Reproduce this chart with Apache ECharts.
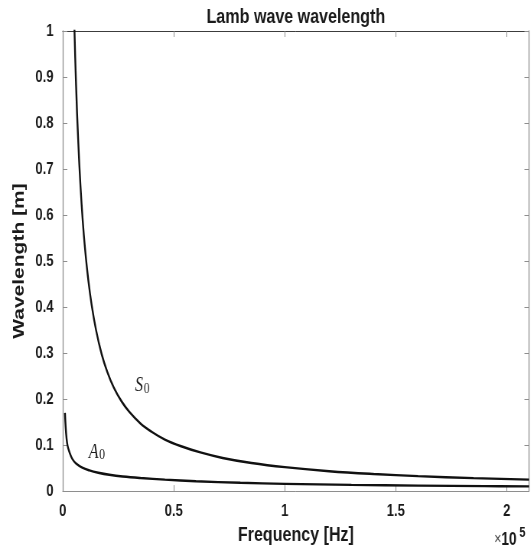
<!DOCTYPE html>
<html>
<head>
<meta charset="utf-8">
<script src="https://cdn.jsdelivr.net/npm/echarts@6/dist/echarts.min.js"></script>
<style>
  html, body { margin: 0; padding: 0; background: #fff; overflow: hidden; }
  /* the figure is laid out wide and then narrowed horizontally */
  #main { width: 694px; height: 551px; transform: scaleX(0.765); transform-origin: 0 0; }
</style>
</head>
<body>
<div id="main"></div>
<script>
// S0 mode: frequency [Hz] and wavelength [m]
const s0Freq = [5000, 5300, 6000, 7000, 8000, 9000, 10000, 11500, 13000, 15000, 17500, 20000,
                23000, 26500, 30000, 35000, 40000, 46000, 53000, 62000, 72000, 85000,
                100000, 120000, 140000, 160000, 185000, 210000];
const s0Wave = [1.06, 1.00, 0.883, 0.757, 0.662, 0.588, 0.529, 0.459, 0.405, 0.350, 0.298, 0.260,
                0.225, 0.195, 0.172, 0.147, 0.129, 0.112, 0.098, 0.084, 0.072, 0.061,
                0.052, 0.0433, 0.0372, 0.0326, 0.0282, 0.0249];

// A0 mode: frequency [Hz] and wavelength [m]
const a0Freq = [1000, 1300, 1700, 2200, 3000, 4300, 6000, 8800, 12000, 16000, 21000, 27000,
                35000, 46000, 60000, 80000, 100000, 130000, 160000, 190000, 210000];
const a0Wave = [0.170, 0.140, 0.115, 0.098, 0.085, 0.070, 0.060, 0.051, 0.045, 0.040, 0.0355, 0.0318,
                0.0285, 0.0250, 0.0215, 0.0180, 0.0158, 0.0135, 0.0120, 0.0108, 0.0102];

// tick labels
const xTickLabels = ['0', '0.5', '1', '1.5', '2'];
const yTickLabels = ['0', '0.1', '0.2', '0.3', '0.4', '0.5', '0.6', '0.7', '0.8', '0.9', '1'];

const pairs = (xs, ys) => xs.map((x, i) => [x, ys[i]]);

const FONT = "'Liberation Sans', Arial, Helvetica, sans-serif";
const SERIF = "'Liberation Serif', 'Times New Roman', serif";
const AXIS_GRAY = '#8e8e8e';
const TEXT = '#1a1a1a';

const chart = echarts.init(document.getElementById('main'), null, { renderer: 'canvas' });

const tickStyle = { show: true, inside: true, length: 6, lineStyle: { color: AXIS_GRAY, width: 1 } };

const modeLabel = (letter) => ({
  show: true,
  position: 'inside',
  formatter: '{i|' + letter + '}{s|0}',
  rich: {
    i: { fontFamily: SERIF, fontStyle: 'italic', fontSize: 21, color: TEXT },
    s: { fontFamily: SERIF, fontSize: 15, color: TEXT, verticalAlign: 'bottom', padding: [7, 0, 0, 1] }
  }
});

chart.setOption({
  animation: false,
  backgroundColor: '#fff',
  grid: { left: 82, right: 2.5, top: 31, bottom: 52, containLabel: false },
  xAxis: [
    {
      type: 'value', position: 'bottom', min: 0, max: 210000, interval: 50000,
      axisLine: { show: true, onZero: false, lineStyle: { color: AXIS_GRAY, width: 1 } },
      axisTick: tickStyle,
      splitLine: { show: false },
      axisLabel: {
        margin: 12, fontSize: 17, fontWeight: 'bold', fontFamily: FONT, color: TEXT,
        showMaxLabel: false,
        formatter: (v) => { const k = Math.round(v / 50000); return (v % 50000 === 0 && xTickLabels[k]) ? xTickLabels[k] : ''; }
      },
      name: 'Frequency [Hz]', nameLocation: 'middle', nameGap: 32,
      nameTextStyle: { fontSize: 21, fontWeight: 'bold', fontFamily: FONT, color: TEXT }
    },
    {
      type: 'value', position: 'top', min: 0, max: 210000, interval: 50000,
      axisLine: { show: true, onZero: false, lineStyle: { color: '#3c3c3c', width: 1 } },
      axisTick: tickStyle,
      axisLabel: { show: false },
      splitLine: { show: false },
      name: 'Lamb wave wavelength', nameLocation: 'middle', nameGap: 3,
      nameTextStyle: { fontSize: 21, fontWeight: 'bold', fontFamily: FONT, color: TEXT }
    }
  ],
  yAxis: [
    {
      type: 'value', position: 'left', min: 0, max: 1, interval: 0.1,
      axisLine: { show: true, onZero: false, lineStyle: { color: AXIS_GRAY, width: 1.3 } },
      axisTick: tickStyle,
      splitLine: { show: false },
      axisLabel: {
        margin: 12, fontSize: 17, fontWeight: 'bold', fontFamily: FONT, color: TEXT,
        formatter: (v) => yTickLabels[Math.round(v * 10)] || ''
      },
      name: 'Wavelength [m]', nameLocation: 'middle', nameGap: 30, nameRotate: 90,
      nameTextStyle: { fontSize: 21, fontWeight: 'bold', fontFamily: FONT, color: TEXT }
    },
    {
      type: 'value', position: 'right', min: 0, max: 1, interval: 0.1,
      axisLine: { show: true, onZero: false, lineStyle: { color: AXIS_GRAY, width: 1.3 } },
      axisTick: tickStyle,
      axisLabel: { show: false },
      splitLine: { show: false }
    }
  ],
  series: [
    {
      name: 'S0', type: 'line', xAxisIndex: 0, yAxisIndex: 0,
      data: pairs(s0Freq, s0Wave),
      showSymbol: false, smooth: 0.4, clip: true,
      lineStyle: { color: '#111', width: 2.4 },
      markPoint: {
        symbol: 'circle', symbolSize: 1, itemStyle: { color: 'rgba(0,0,0,0)' },
        label: modeLabel('S'),
        data: [{ coord: [35800, 0.230] }]
      }
    },
    {
      name: 'A0', type: 'line', xAxisIndex: 0, yAxisIndex: 0,
      data: pairs(a0Freq, a0Wave),
      showSymbol: false, smooth: 0.4, clip: true,
      lineStyle: { color: '#111', width: 2.4 },
      markPoint: {
        symbol: 'circle', symbolSize: 1, itemStyle: { color: 'rgba(0,0,0,0)' },
        label: modeLabel('A'),
        data: [{ coord: [15400, 0.085] }]
      }
    }
  ],
  graphic: [
    {
      type: 'text', left: 646, top: 531,
      style: {
        text: '{x|×}{n|10}',
        rich: {
          x: { fontFamily: FONT, fontSize: 16, fill: '#444' },
          n: { fontFamily: FONT, fontSize: 18, fontWeight: 'bold', fill: TEXT }
        }
      }
    },
    {
      type: 'text', left: 679, top: 526,
      style: { text: '5', fontFamily: FONT, fontSize: 14, fontWeight: 'bold', fill: TEXT }
    }
  ]
});
</script>
</body>
</html>
